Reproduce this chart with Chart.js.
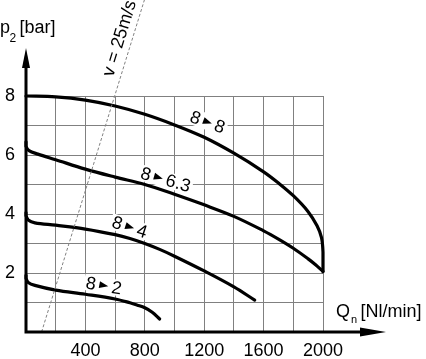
<!DOCTYPE html>
<html><head><meta charset="utf-8">
<script src="https://cdn.jsdelivr.net/npm/chart.js@4"></script>
<style>html,body{margin:0;padding:0;background:#fff}#c{display:block}</style>
</head><body>
<canvas id="c" width="426" height="359" style="width:426px;height:359px"></canvas>
<script>
const FONT = "'Liberation Sans', Arial, sans-serif";

// tick labels
const xTickLabels = [400, 800, 1200, 1600, 2000];
const yTickLabels = [2, 4, 6, 8];

// curve 8 -> 8
const q_8_8 = [0, 200, 400, 600, 800, 1000, 1200, 1400, 1600, 1700, 1800, 1900, 1960, 1990, 2000, 2000];
const p_8_8 = [8.0, 7.97, 7.86, 7.66, 7.38, 7.02, 6.6, 6.06, 5.43, 5.05, 4.62, 4.08, 3.6, 3.2, 2.7, 2.05];
// curve 8 -> 6.3
const q_8_63 = [0, 0, 20, 80, 200, 400, 600, 800, 1000, 1200, 1400, 1600, 1700, 1800, 1900, 1950, 2000];
const p_8_63 = [6.45, 6.3, 6.15, 6.03, 5.84, 5.52, 5.25, 5.0, 4.67, 4.31, 3.92, 3.43, 3.15, 2.84, 2.48, 2.28, 2.05];
// curve 8 -> 4
const q_8_4 = [0, 0, 15, 60, 200, 400, 600, 700, 800, 900, 1000, 1200, 1400, 1540];
const p_8_4 = [4.05, 3.95, 3.8, 3.7, 3.62, 3.49, 3.3, 3.17, 3.0, 2.8, 2.57, 2.07, 1.53, 1.08];
// curve 8 -> 2
const q_8_2 = [0, 0, 15, 60, 200, 400, 600, 700, 750, 800, 850, 900];
const p_8_2 = [1.92, 1.82, 1.68, 1.58, 1.42, 1.28, 1.12, 0.99, 0.91, 0.82, 0.67, 0.44];
// v = 25 m/s line
const q_v25 = [105, 800];
const p_v25 = [0, 11.3];

// curve labels: from, to, anchor (triangle) in data units, angle (deg)
const labelFrom = ['8', '8', '8', '8'];
const labelTo = ['8', '6.3', '4', '2'];
const labelQ = [1223, 892, 699, 524];
const labelP = [7.12, 5.24, 3.56, 1.58];
const labelAngle = [20, 16, 18, 10];

const zip = (xs, ys) => xs.map((x, i) => ({x, y: ys[i]}));

const curve = (q, p) => ({
  data: zip(q, p), borderColor: '#000', borderWidth: 3.2, pointRadius: 0,
  tension: 0.35, clip: false, fill: false, borderCapStyle: 'round', borderJoinStyle: 'round'
});

const decor = {
  id: 'decor',
  beforeDatasetsDraw(chart) {
    const {ctx, scales: {x: sx, y: sy}} = chart;
    ctx.save();
    ctx.font = '18px ' + FONT;
    for (let i = 0; i < labelFrom.length; i++) {
      const px = sx.getPixelForValue(labelQ[i]), py = sy.getPixelForValue(labelP[i]);
      const w1 = ctx.measureText(labelFrom[i]).width, w2 = ctx.measureText(labelTo[i]).width;
      ctx.save(); ctx.translate(px, py); ctx.rotate(labelAngle[i] * Math.PI / 180);
      ctx.fillStyle = '#fff';
      ctx.fillRect(-9 - w1 - 1, -8, w1 + w2 + 20, 16);
      ctx.restore();
    }
    ctx.restore();
  },
  afterDatasetsDraw(chart) {
    const {ctx, chartArea: a, scales: {x: sx, y: sy}} = chart;
    ctx.save();
    // curve label texts
    ctx.font = '18px ' + FONT;
    ctx.fillStyle = '#000';
    ctx.textBaseline = 'middle';
    for (let i = 0; i < labelFrom.length; i++) {
      const px = sx.getPixelForValue(labelQ[i]), py = sy.getPixelForValue(labelP[i]);
      ctx.save(); ctx.translate(px, py); ctx.rotate(labelAngle[i] * Math.PI / 180);
      ctx.textAlign = 'right'; ctx.fillText(labelFrom[i], -8, 1);
      ctx.textAlign = 'left'; ctx.fillText(labelTo[i], 8, 1);
      ctx.beginPath(); ctx.moveTo(-4.5, -3.5); ctx.lineTo(4.5, 0); ctx.lineTo(-4.5, 3.5); ctx.closePath(); ctx.fill();
      ctx.restore();
    }
    // v = 25m/s label along dashed line
    const x0 = sx.getPixelForValue(q_v25[0]), y0 = sy.getPixelForValue(p_v25[0]);
    const x1 = sx.getPixelForValue(q_v25[1]), y1 = sy.getPixelForValue(p_v25[1]);
    const ang = Math.atan2(y1 - y0, x1 - x0);
    const t = 0.87;
    ctx.save();
    ctx.translate(x0 + (x1 - x0) * t, y0 + (y1 - y0) * t);
    ctx.rotate(ang);
    ctx.textAlign = 'center'; ctx.textBaseline = 'middle';
    ctx.fillText('v = 25m/s', 0, -12);
    ctx.restore();

    // axes
    ctx.strokeStyle = '#000'; ctx.fillStyle = '#000'; ctx.lineWidth = 3;
    ctx.beginPath();
    ctx.moveTo(a.left, a.bottom + 1.5); ctx.lineTo(a.left, a.top - 30);
    ctx.moveTo(a.left - 1.5, a.bottom); ctx.lineTo(a.right + 40, a.bottom);
    ctx.stroke();
    ctx.beginPath();
    ctx.moveTo(a.left - 4, a.top - 28); ctx.lineTo(a.left, a.top - 48); ctx.lineTo(a.left + 4, a.top - 28); ctx.closePath(); ctx.fill();
    ctx.beginPath();
    ctx.moveTo(a.right + 37, a.bottom - 4.5); ctx.lineTo(a.right + 63, a.bottom); ctx.lineTo(a.right + 37, a.bottom + 4.5); ctx.closePath(); ctx.fill();

    // axis titles
    ctx.textAlign = 'left'; ctx.textBaseline = 'alphabetic';
    ctx.font = '18px ' + FONT; ctx.fillText('p', 0, 33);
    ctx.font = '12px ' + FONT; ctx.fillText('2', 9.5, 42);
    ctx.font = '18px ' + FONT; ctx.fillText('[bar]', 19.5, 33);
    ctx.font = '18px ' + FONT; ctx.fillText('Q', 336, 317);
    ctx.font = '11px ' + FONT; ctx.fillText('n', 351, 323);
    ctx.font = '18px ' + FONT; ctx.fillText('[Nl/min]', 360.5, 317);
    ctx.restore();
  }
};

new Chart(document.getElementById('c'), {
  type: 'line',
  data: {
    datasets: [
      {data: zip(q_v25, p_v25), borderColor: '#808080', borderWidth: 1, borderDash: [3, 2], pointRadius: 0, tension: 0, clip: false},
      curve(q_8_8, p_8_8),
      curve(q_8_63, p_8_63),
      curve(q_8_4, p_8_4),
      curve(q_8_2, p_8_2)
    ]
  },
  options: {
    responsive: false, animation: false, devicePixelRatio: 1,
    layout: {padding: {left: 0, top: 96, right: 103, bottom: 0}},
    plugins: {legend: {display: false}, tooltip: {enabled: false}},
    scales: {
      x: {
        type: 'linear', min: 0, max: 2000,
        afterFit(s) { s.height = 27; },
        border: {display: false},
        grid: {color: '#808080', lineWidth: 1, drawTicks: false},
        ticks: {
          stepSize: 200, autoSkip: false, maxRotation: 0, padding: 8,
          color: '#000', font: {family: FONT, size: 18},
          callback: v => xTickLabels.includes(v) ? String(v) : ''
        }
      },
      y: {
        type: 'linear', min: 0, max: 8,
        afterFit(s) { s.width = 26; },
        border: {display: false},
        grid: {color: '#808080', lineWidth: 1, drawTicks: false},
        ticks: {
          stepSize: 1, autoSkip: false, padding: 11,
          color: '#000', font: {family: FONT, size: 18},
          callback: v => yTickLabels.includes(v) ? String(v) : ''
        }
      }
    }
  },
  plugins: [decor]
});
</script>
</body></html>
